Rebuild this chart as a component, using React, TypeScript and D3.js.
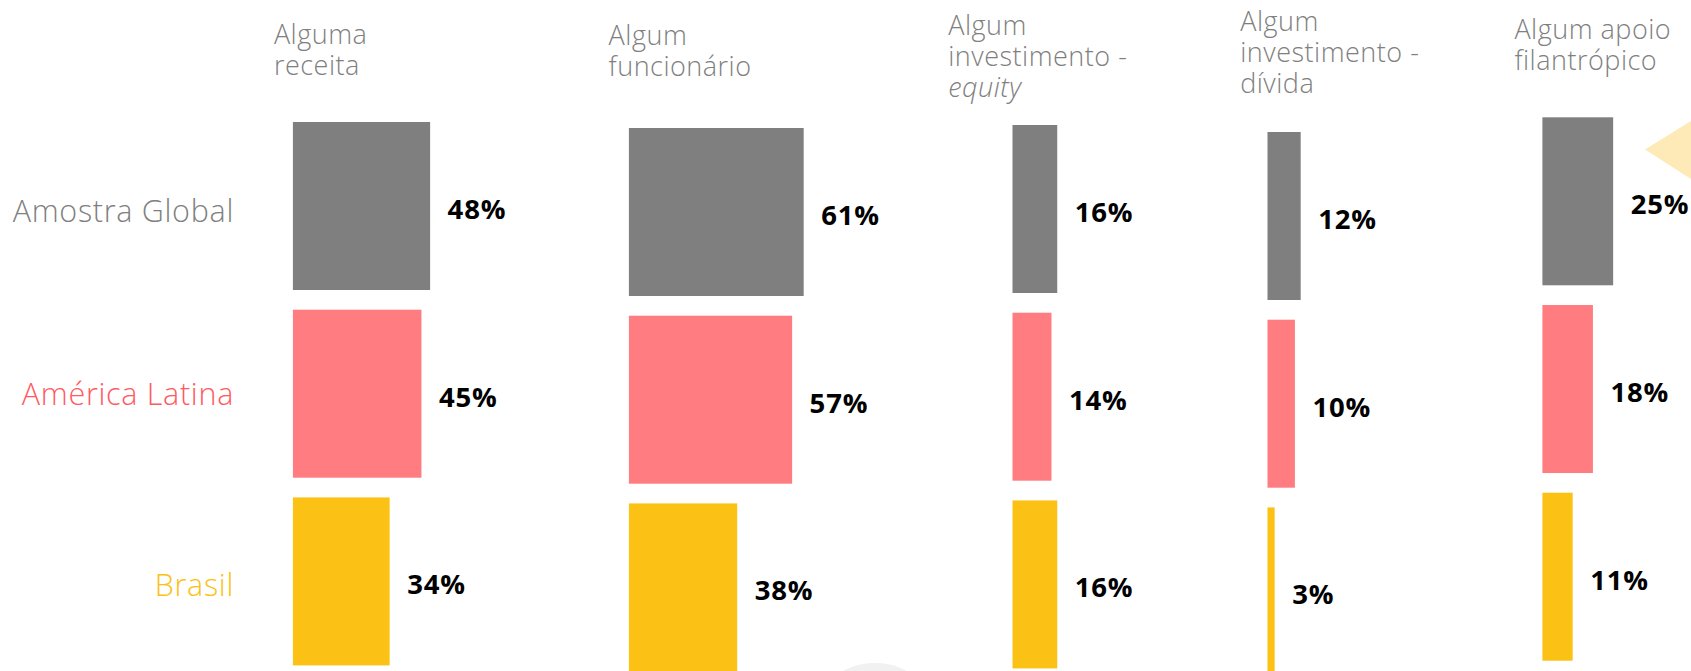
import React from "react";
import * as d3 from "d3";

// ---- data ----
const categories = [
  "Alguma receita",
  "Algum funcionário",
  "Algum investimento - equity",
  "Algum investimento - dívida",
  "Algum apoio filantrópico",
];
const headerLines: string[][] = [
  ["Alguma", "receita"],
  ["Algum", "funcionário"],
  ["Algum", "investimento -", "equity"],
  ["Algum", "investimento -", "dívida"],
  ["Algum apoio", "filantrópico"],
];
const italicWords = ["equity"];
const seriesNames = ["Amostra Global", "América Latina", "Brasil"];
const amostraGlobal = [48, 61, 16, 12, 25];
const americaLatina = [45, 57, 14, 10, 18];
const brasil = [34, 38, 16, 3, 11];
const seriesValues = [amostraGlobal, americaLatina, brasil];

// ---- styles / layout ----
const barColors = ["#7F7F7F", "#FF7C80", "#FCC115"];
const labelColors = ["#808080", "#FF5A5F", "#FCC115"];
const colX = [292.9, 628.9, 1012.5, 1267.5, 1542.4];
const colTop = [122, 128, 125, 132, 117.3];
const headerX = [273.9, 608.6, 948.2, 1240.2, 1514.4];
const headerY = [44.3, 45, 35, 30.7, 39];
const rowLabelBaseline = [222, 405, 596];

const W = 1691;
const H = 671;

export default function App() {
  const width = d3.scaleLinear().domain([0, 100]).range([-1.5, 287.5]);
  const y = d3
    .scaleBand<string>()
    .domain(seriesNames)
    .range([0, 543.4])
    .paddingInner(0.105)
    .paddingOuter(0);
  const bw = y.bandwidth();

  const font = "'Open Sans', 'DejaVu Sans', sans-serif";

  return (
    <svg
      width={W}
      height={H}
      style={{ position: "absolute", left: 0, top: 0, display: "block", background: "#fff" }}
    >
      {/* decorative triangle */}
      <polygon points={`1645,149.5 ${W},121 ${W},179`} fill="#FEEAB6" />
      {/* decorative arc at bottom */}
      <circle cx={875} cy={731} r={68} fill="#F1F1F1" />
      <circle cx={875} cy={745} r={76} fill="#E2E2E2" opacity={0} />

      {/* headers */}
      {headerLines.map((lines, ci) => (
        <text
          key={"h" + ci}
          x={headerX[ci]}
          y={headerY[ci]}
          fontFamily={font}
          fontWeight={300}
          fontSize={27}
          letterSpacing={0.5}
          fill="#808080"
        >
          {lines.map((ln, li) => (
            <tspan
              key={li}
              x={headerX[ci]}
              dy={li === 0 ? 0 : 31}
              fontStyle={italicWords.includes(ln) ? "italic" : "normal"}
            >
              {ln}
            </tspan>
          ))}
        </text>
      ))}

      {/* row labels */}
      {seriesNames.map((s, si) => (
        <text
          key={"r" + si}
          x={234}
          y={rowLabelBaseline[si]}
          textAnchor="end"
          fontFamily={font}
          fontWeight={300}
          fontSize={30.5}
          letterSpacing={0.7}
          fill={labelColors[si]}
        >
          {s}
        </text>
      ))}

      {/* bars */}
      {categories.map((c, ci) => (
        <g key={"c" + ci} transform={`translate(${colX[ci]},${colTop[ci]})`}>
          {seriesNames.map((s, si) => {
            const v = seriesValues[si][ci];
            const w = width(v);
            const yy = y(s) as number;
            return (
              <g key={s}>
                <rect x={0} y={yy} width={w} height={bw} fill={barColors[si]} />
                <text
                  x={w + 17.5}
                  y={yy + bw / 2 + 13}
                  fontFamily={font}
                  fontWeight={700}
                  fontSize={27.5}
                  letterSpacing={0.8}
                  fill="#000"
                >
                  {v + "%"}
                </text>
              </g>
            );
          })}
        </g>
      ))}
    </svg>
  );
}
